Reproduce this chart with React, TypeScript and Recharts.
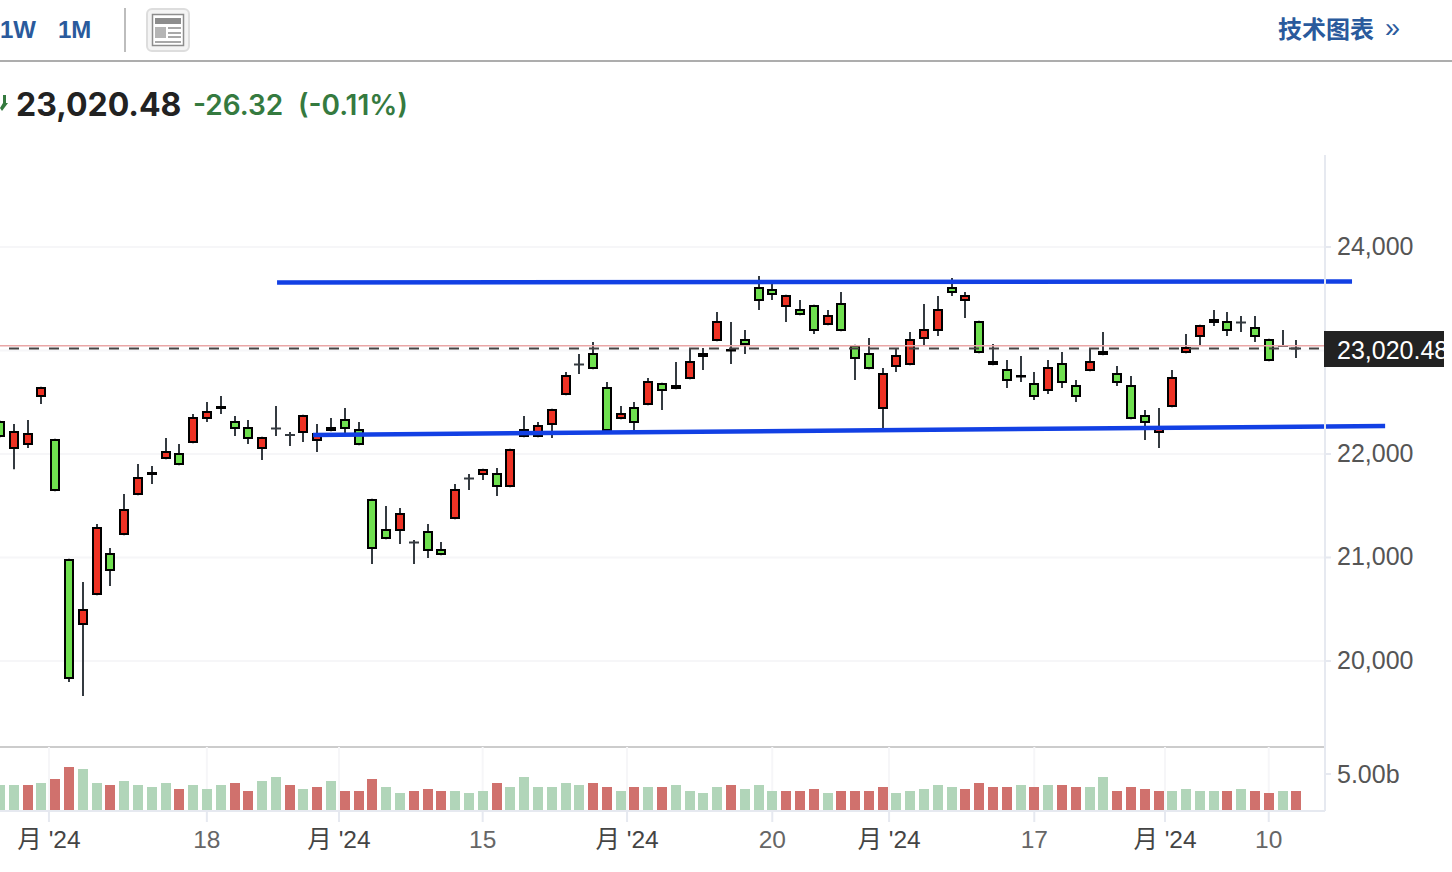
import React from "react";
import {
  ComposedChart,
  Bar,
  Cell,
  XAxis,
  YAxis,
  CartesianGrid,
  ReferenceLine,
} from "recharts";

const opens = [22322,22045,22084,22548,22148,20988,20345,20635,21046,21214,21601,21794,21949,22013,22103,22335,22432,22322,22264,22045,22243,22181,22200,22123,22219,22341,22244,21568,21278,21253,21144,21259,21085,21369,21762,21794,21819,21678,22244,22161,22277,22567,22864,22979,22650,22335,22457,22471,22689,22625,22722,22934,23089,22992,23114,23616,23597,23417,23404,23443,23243,23462,23056,22979,22432,22838,22857,23108,23186,23616,23475,23288,22901,22824,22741,22689,22606,22882,22670,22799,22998,22786,22670,22380,22200,22451,22973,23128,23307,23288,23272,23230,23114,23044,23017];
const highs = [22322,22290,22329,22650,22148,20988,20763,21324,21092,21614,21903,21884,22155,22097,22386,22502,22560,22367,22329,22167,22464,22213,22380,22290,22348,22444,22309,21568,21498,21478,21169,21324,21150,21710,21807,21858,21865,22051,22367,22309,22438,22792,22966,23082,22696,22464,22502,22734,22689,22889,23024,23024,23372,23275,23198,23720,23662,23539,23488,23443,23391,23565,23056,23121,22831,23024,23179,23449,23527,23701,23565,23288,23063,22908,22947,22792,22908,22986,22715,23024,23179,22850,22754,22425,22444,22812,23159,23249,23391,23372,23333,23333,23114,23198,23101];
const lows = [22161,21852,22058,22483,21640,19797,19662,20635,20725,21214,21601,21710,21949,21891,22103,22309,22386,22174,22097,21942,22174,22077,22116,22019,22219,22193,22084,20937,21176,21130,20937,20995,21021,21369,21652,21749,21594,21678,22161,22161,22155,22567,22773,22818,22222,22335,22213,22471,22425,22625,22722,22812,23089,22870,22966,23391,23488,23275,23340,23159,23243,23186,22715,22818,22251,22792,22857,23043,23140,23527,23314,22973,22857,22638,22696,22522,22580,22638,22502,22799,22954,22657,22335,22135,22058,22451,22973,23043,23237,23140,23179,23082,22896,23044,22928];
const closes = [22161,22225,22206,22650,21640,19823,20505,21298,20867,21471,21781,21826,22032,21891,22360,22418,22464,22239,22142,22167,22249,22187,22380,22206,22264,22239,22084,21079,21176,21433,21150,21060,21021,21665,21768,21858,21678,22051,22161,22283,22438,22766,22870,22818,22222,22399,22297,22708,22606,22670,22901,22979,23288,23017,23050,23475,23533,23539,23340,23186,23346,23186,22915,22818,22786,22959,23114,23211,23404,23553,23539,22973,22857,22702,22766,22548,22843,22683,22548,22901,22954,22683,22335,22297,22251,22747,23037,23249,23263,23186,23266,23128,22896,23047,23020];

const volumes = [3.47,3.47,3.47,3.75,4.31,5.97,5.69,3.75,3.47,4.03,3.47,3.19,3.75,2.92,3.47,2.92,3.47,3.75,2.64,4.03,4.58,3.47,2.92,3.19,4.03,2.64,2.64,4.31,3.19,2.36,2.64,2.92,2.64,2.64,2.36,2.64,3.75,3.19,4.58,3.19,3.19,3.75,3.47,3.75,3.19,2.64,3.19,3.19,3.19,3.47,2.64,2.36,3.19,3.47,2.92,3.47,2.64,2.64,2.64,2.92,2.36,2.64,2.64,2.64,3.19,2.36,2.64,2.92,3.47,3.19,2.92,3.75,3.19,3.19,3.47,3.19,3.47,3.47,3.19,3.19,4.58,2.64,3.19,2.92,2.64,2.64,2.92,2.64,2.64,2.64,2.92,2.64,2.36,2.64,2.64];
const volumeUp = "ggrgrrggrggggrgggrrggrgrgrrrggrrrgggrggggggrrgrgrggggrgggrrrgrrrrgggggrrrrgrgrrggrrrrggggrgrrgr".split("");

const priceTicks = [20000, 21000, 22000, 23000, 24000];
const volumeTicks = [5];
const dateTicks = [3.55, 15, 24.58, 35, 45.47, 56, 64.47, 75, 84.48, 92];
const dateLabels = ["月 '24", "18", "月 '24", "15", "月 '24", "20", "月 '24", "17", "月 '24", "10"];

const lastPrice = 23020.48;
const prevClose = 23046.82;
const resistance = [{ x: 20.09, y: 23657 }, { x: 98.04, y: 23667 }];
const support = [{ x: 22.7, y: 22184 }, { x: 100.44, y: 22271 }];

const rows = opens.map((o, i) => ({
  i,
  open: o,
  high: highs[i],
  low: lows[i],
  close: closes[i],
  range: [lows[i], highs[i]],
  volume: volumes[i],
}));

const xDomain: [number, number] = [0, 96.08];
const FONT = '"Liberation Sans", "Noto Sans CJK SC", sans-serif';
const UI_FONT = 'Inter, "Noto Sans CJK SC", sans-serif';
const LINK = "#2a5a9c";
const GREEN_TEXT = "#357a3f";

function Candle(props: any) {
  const { x, y, width, height, payload } = props;
  const cx = Math.round(x + width / 2);
  const k = height / (payload.high - payload.low);
  const top = Math.round(y + (payload.high - Math.max(payload.open, payload.close)) * k);
  const bot = Math.round(y + (payload.high - Math.min(payload.open, payload.close)) * k);
  const up = payload.close >= payload.open;
  const thin = bot - top < 2;
  return (
    <g>
      <line x1={cx} x2={cx} y1={y} y2={y + height} stroke="#343a40" strokeWidth={2} />
      {thin ? (
        <line x1={cx - 5} x2={cx + 5} y1={(top + bot) / 2} y2={(top + bot) / 2} stroke="#343a40" strokeWidth={2} />
      ) : (
        <rect
          x={cx - 4}
          y={top + 1}
          width={8}
          height={Math.max(bot - top - 2, 0.5)}
          fill={up ? "#ee3224" : "#6fe04f"}
          stroke="#000"
          strokeWidth={2}
        />
      )}
    </g>
  );
}

function VolumeBar(props: any) {
  const { x, y, width, height, fill } = props;
  const cx = Math.round(x + width / 2);
  return <rect x={cx - 5} y={Math.round(y)} width={10} height={Math.round(height)} fill={fill} />;
}

function DateTick(props: any) {
  const { x, y, payload } = props;
  const label = dateLabels[dateTicks.indexOf(payload.value)];
  const isMonth = label.includes("月");
  return (
    <text
      x={x}
      y={y + 24}
      textAnchor="middle"
      fontFamily={FONT}
      fontSize={24.5}
      fill={isMonth ? "#444" : "#666"}
      xmlSpace="preserve"
    >
      {label}
    </text>
  );
}

function NewsIcon() {
  return (
    <svg width={44} height={44} style={{ position: "absolute", left: 146, top: 8 }}>
      <rect x={1} y={1} width={42} height={42} rx={5} fill="#f4f4f4" stroke="#dddddd" strokeWidth={2} />
      <rect x={6.5} y={6.5} width={31} height={31} fill="#fff" stroke="#8d8d8d" strokeWidth={1.5} />
      <rect x={9} y={10} width={26} height={6} fill="#8d8d8d" />
      <rect x={9} y={19} width={11} height={11} fill="#b5b5b5" />
      <rect x={22} y={19} width={13} height={2} fill="#a8a8a8" />
      <rect x={22} y={24} width={13} height={2} fill="#a8a8a8" />
      <rect x={22} y={28} width={13} height={2} fill="#a8a8a8" />
      <rect x={9} y={33} width={26} height={2} fill="#a8a8a8" />
    </svg>
  );
}

const abs = (s: React.CSSProperties): React.CSSProperties => ({
  position: "absolute",
  whiteSpace: "pre",
  lineHeight: 1,
  ...s,
});

export default function App() {
  return (
    <div
      style={{
        position: "absolute",
        left: 0,
        top: 0,
        width: 1452,
        height: 872,
        overflow: "hidden",
        background: "#fff",
      }}
    >
      <div style={abs({ left: 0, top: 18, fontFamily: FONT, fontSize: 24, fontWeight: 700, color: LINK })}>1W</div>
      <div style={abs({ left: 58, top: 18, fontFamily: FONT, fontSize: 24, fontWeight: 700, color: LINK })}>1M</div>
      <div style={abs({ left: 124, top: 8, width: 2, height: 44, background: "#bdbdbd" })} />
      <NewsIcon />
      <div style={abs({ left: 1278, top: 18, fontFamily: FONT, fontSize: 24, fontWeight: 700, color: LINK })}>技术图表</div>
      <div style={abs({ left: 1385, top: 15, fontFamily: FONT, fontSize: 27, color: LINK })}>»</div>
      <div style={abs({ left: 0, top: 60, width: 1452, height: 2, background: "#adadad" })} />

      <svg width={8} height={18} style={{ position: "absolute", left: 0, top: 95 }}>
        <path d="M3 0 L6 0 L6 8 L8 8 L2 16 L0 13 L3 8 Z" fill={GREEN_TEXT} />
      </svg>
      <div style={abs({ left: 16, top: 89, fontFamily: UI_FONT, fontSize: 32, fontWeight: 700, color: "#222" })}>23,020.48</div>
      <div style={abs({ left: 193, top: 91, fontFamily: UI_FONT, fontSize: 28, fontWeight: 600, color: GREEN_TEXT })}>-26.32</div>
      <div style={abs({ left: 298, top: 91, fontFamily: UI_FONT, fontSize: 28, fontWeight: 600, color: GREEN_TEXT })}>(-0.11%)</div>

      <div style={{ position: "absolute", left: 0, top: 155 }}>
        <ComposedChart
          width={1452}
          height={593}
          data={rows}
          margin={{ top: 0, right: 0, bottom: 0, left: 0 }}
          barSize={10}
        >
          <CartesianGrid
            stroke="#f6f6f8"
            strokeWidth={2}
            verticalValues={dateTicks}
            horizontalValues={priceTicks}
          />
          <XAxis
            dataKey="i"
            type="number"
            domain={xDomain}
            allowDataOverflow
            ticks={dateTicks}
            interval={0}
            tick={false}
            tickLine={false}
            height={1}
            axisLine={{ stroke: "#cccccc", strokeWidth: 2 }}
          />
          <YAxis
            orientation="right"
            width={127}
            domain={[19169, 24889]}
            allowDataOverflow
            ticks={priceTicks}
            interval={0}
            axisLine={{ stroke: "#e6e9f0", strokeWidth: 2 }}
            tickLine={{ stroke: "#e6e9f0", strokeWidth: 2 }}
            tickSize={6}
            tickMargin={6}
            tickFormatter={(v: number) => (v === 23000 ? "" : v.toLocaleString("en-US"))}
            tick={{ fontFamily: FONT, fontSize: 25, fill: "#555", dy: -1 }}
          />
          <Bar dataKey="range" isAnimationActive={false} shape={<Candle />} />
          <ReferenceLine y={prevClose} stroke="#e9a6a6" strokeWidth={1.5} />
          <ReferenceLine y={lastPrice} stroke="#444" strokeWidth={2} strokeDasharray="10 10" strokeDashoffset={14} />
          <ReferenceLine
            segment={resistance}
            ifOverflow="visible"
            stroke="#1240e4"
            strokeWidth={4.5}
          />
          <ReferenceLine
            segment={support}
            ifOverflow="visible"
            stroke="#1240e4"
            strokeWidth={4.5}
          />
        </ComposedChart>
      </div>

      <div style={{ position: "absolute", left: 0, top: 747 }}>
        <ComposedChart
          width={1452}
          height={125}
          data={rows}
          margin={{ top: 0, right: 0, bottom: 0, left: 0 }}
          barSize={10}
        >
          <CartesianGrid
            stroke="#f6f6f8"
            strokeWidth={2}
            horizontal={false}
            verticalValues={dateTicks}
          />
          <XAxis
            dataKey="i"
            type="number"
            domain={xDomain}
            allowDataOverflow
            ticks={dateTicks}
            interval={0}
            height={61}
            axisLine={{ stroke: "#e6e9f0", strokeWidth: 2 }}
            tickLine={{ stroke: "#e6e9f0", strokeWidth: 2 }}
            tickSize={11}
            tick={<DateTick />}
          />
          <YAxis
            orientation="right"
            width={127}
            domain={[-0.139, 8.75]}
            allowDataOverflow
            ticks={volumeTicks}
            interval={0}
            axisLine={{ stroke: "#e6e9f0", strokeWidth: 2 }}
            tickLine={{ stroke: "#e6e9f0", strokeWidth: 2 }}
            tickSize={6}
            tickMargin={6}
            tickFormatter={(v: number) => `${v.toFixed(2)}b`}
            tick={{ fontFamily: FONT, fontSize: 25, fill: "#555" }}
          />
          <Bar dataKey="volume" isAnimationActive={false} shape={<VolumeBar />}>
            {rows.map((r, i) => (
              <Cell key={r.i} fill={volumeUp[i] === "r" ? "#d0716d" : "#b1d5b9"} />
            ))}
          </Bar>
        </ComposedChart>
      </div>

      <div
        style={abs({
          left: 1324,
          top: 331,
          width: 120,
          height: 36,
          background: "#222",
          overflow: "hidden",
        })}
      >
        <div style={abs({ position: "absolute", left: 13, top: 7, fontFamily: FONT, fontSize: 25, color: "#fff" })}>23,020.48</div>
      </div>
    </div>
  );
}
